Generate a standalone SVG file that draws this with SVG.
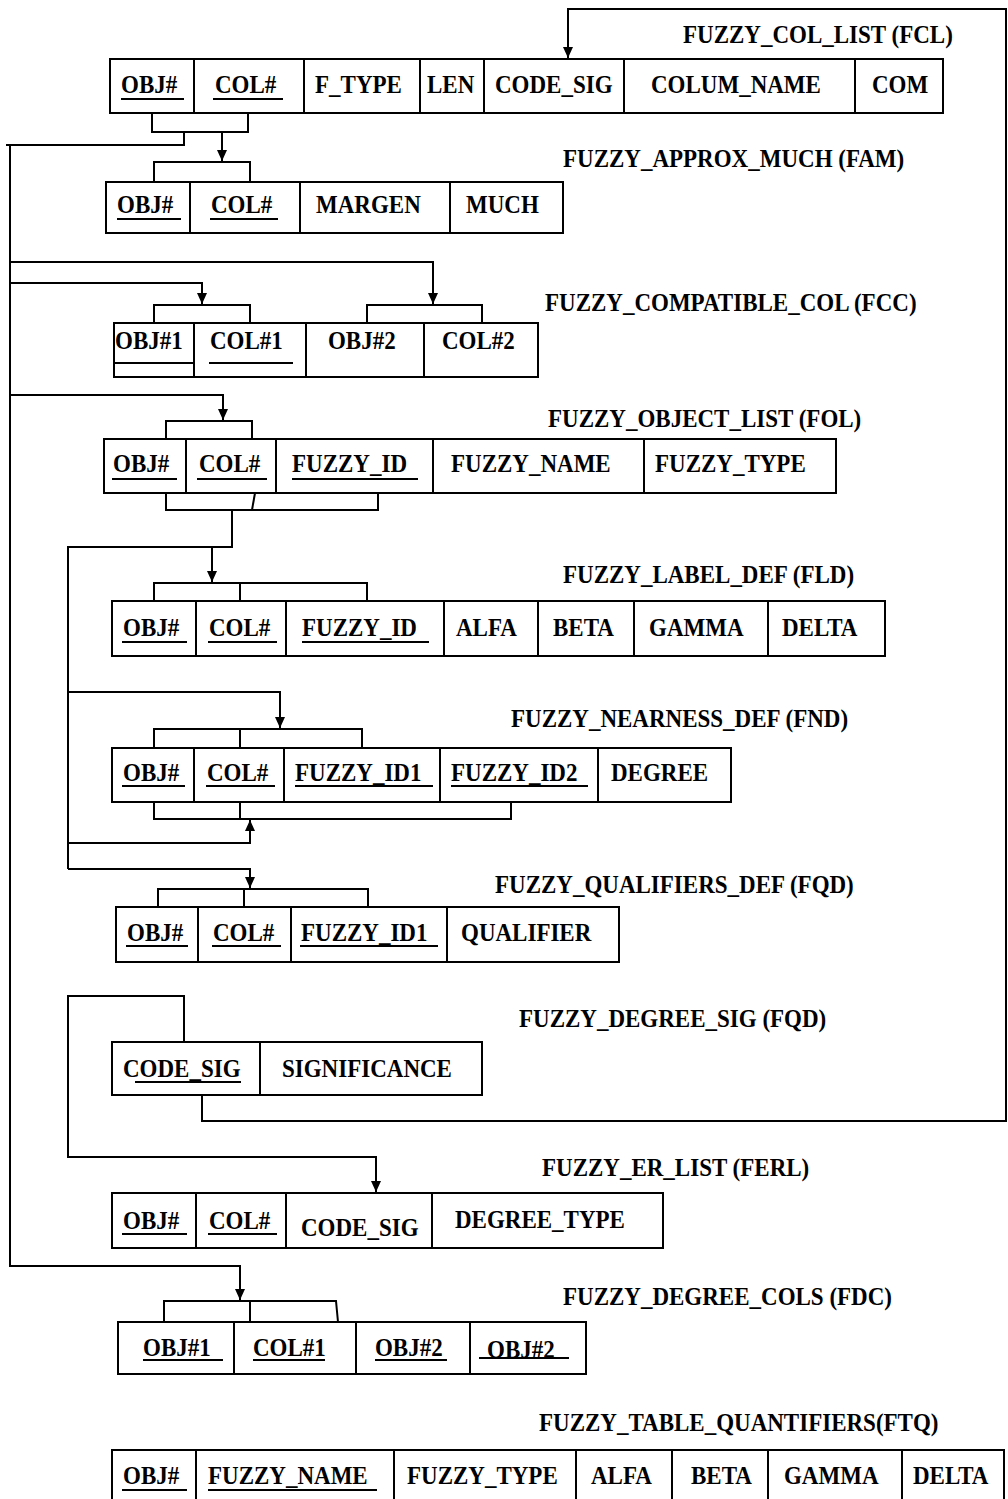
<svg xmlns="http://www.w3.org/2000/svg" width="1008" height="1499" viewBox="0 0 1008 1499">
<defs>
<style>
.box{fill:none;stroke:#000;stroke-width:2}
.ln{stroke:#000;stroke-width:2;fill:none}
.ul{stroke:#000;stroke-width:2}
.c{fill:none;stroke:#000;stroke-width:2}
.t{font-family:"Liberation Serif","Times New Roman",serif;font-weight:bold;font-size:25px;fill:#000;transform-box:fill-box;transform-origin:left;transform:scaleX(.92)}
</style>
<marker id="ah" markerUnits="userSpaceOnUse" markerWidth="12" markerHeight="12" viewBox="0 0 12 12" refX="11" refY="6" orient="auto">
<path d="M0,1 L11,6 L0,11 Z" fill="#000"/>
</marker>
</defs>
<rect width="1008" height="1499" fill="#fff"/>

<g id="connectors">
<path class="c" d="M202 1095 V1121 H1006 V9 H568 V58" marker-end="url(#ah)"/>
<path class="c" d="M152 113 V132 H248 V113"/>
<path class="c" d="M222 132 V161" marker-end="url(#ah)"/>
<path class="c" d="M154 182 V162 H250 V182"/>
<path class="c" d="M6 145 H184 V132"/>
<path class="c" d="M10 145 V1266 H240 V1300" marker-end="url(#ah)"/>
<path class="c" d="M10 262 H433 V304" marker-end="url(#ah)"/>
<path class="c" d="M10 283 H202 V304" marker-end="url(#ah)"/>
<path class="c" d="M10 395 H223 V420" marker-end="url(#ah)"/>
<path class="c" d="M154 323 V305 H250 V323"/>
<path class="c" d="M367 323 V305 H482 V323"/>
<path class="c" d="M166 439 V421 H252 V439"/>
<path class="c" d="M166 493 V510 H378 V493"/>
<path class="c" d="M255 493 L252 510"/>
<path class="c" d="M232 510 V547 H68 V869"/>
<path class="c" d="M212 547 V582" marker-end="url(#ah)"/>
<path class="c" d="M154 601 V583 H367 V601"/>
<path class="c" d="M240 583 V601"/>
<path class="c" d="M68 692 H280 V728" marker-end="url(#ah)"/>
<path class="c" d="M154 748 V729 H362 V748"/>
<path class="c" d="M240 729 V748"/>
<path class="c" d="M154 802 V819 H511 V802"/>
<path class="c" d="M240 802 V819"/>
<path class="c" d="M68 843 H250 V820" marker-end="url(#ah)"/>
<path class="c" d="M68 869 H250 V888" marker-end="url(#ah)"/>
<path class="c" d="M158 907 V889 H368 V907"/>
<path class="c" d="M244 889 V907"/>
<path class="c" d="M184 1042 V996 H68 V1157 H376 V1192" marker-end="url(#ah)"/>
<path class="c" d="M164 1322 V1301 H336 L338 1322"/>
<path class="c" d="M250 1301 V1322"/>
</g>

<g id="FCL">
<text class="t" x="683" y="43">FUZZY_COL_LIST (FCL)</text>
<rect class="box" x="110" y="59" width="833" height="54"/>
<path class="ln" d="M194 59V113M304 59V113M420 59V113M484 59V113M624 59V113M855 59V113"/>
<text class="t" x="121" y="93">OBJ#</text><line class="ul" x1="121" y1="99" x2="184" y2="99"/>
<text class="t" x="215" y="93">COL#</text><line class="ul" x1="213" y1="99" x2="283" y2="99"/>
<text class="t" x="315" y="93">F_TYPE</text>
<text class="t" x="427" y="93">LEN</text>
<text class="t" x="495" y="93">CODE_SIG</text>
<text class="t" x="651" y="93">COLUM_NAME</text>
<text class="t" x="872" y="93">COM</text>
</g>

<g id="FAM">
<text class="t" x="563" y="167">FUZZY_APPROX_MUCH (FAM)</text>
<rect class="box" x="106" y="182" width="457" height="51"/>
<path class="ln" d="M190 182V233M300 182V233M450 182V233"/>
<text class="t" x="117" y="213">OBJ#</text><line class="ul" x1="117" y1="219" x2="181" y2="219"/>
<text class="t" x="211" y="213">COL#</text><line class="ul" x1="210" y1="219" x2="278" y2="219"/>
<text class="t" x="316" y="213">MARGEN</text>
<text class="t" x="466" y="213">MUCH</text>
</g>

<g id="FCC">
<text class="t" x="545" y="311">FUZZY_COMPATIBLE_COL (FCC)</text>
<rect class="box" x="114" y="323" width="424" height="54"/>
<path class="ln" d="M194 323V377M306 323V377M424 323V377"/>
<text class="t" x="115" y="349">OBJ#1</text><line class="ul" x1="114" y1="363" x2="194" y2="363"/>
<text class="t" x="210" y="349">COL#1</text><line class="ul" x1="209" y1="363" x2="293" y2="363"/>
<text class="t" x="328" y="349">OBJ#2</text>
<text class="t" x="442" y="349">COL#2</text>
</g>

<g id="FOL">
<text class="t" x="548" y="427">FUZZY_OBJECT_LIST (FOL)</text>
<rect class="box" x="104" y="439" width="732" height="54"/>
<path class="ln" d="M186 439V493M276 439V493M433 439V493M644 439V493"/>
<text class="t" x="113" y="472">OBJ#</text><line class="ul" x1="112" y1="479" x2="177" y2="479"/>
<text class="t" x="199" y="472">COL#</text><line class="ul" x1="197" y1="479" x2="267" y2="479"/>
<text class="t" x="292" y="472">FUZZY_ID</text><line class="ul" x1="292" y1="479" x2="418" y2="479"/>
<text class="t" x="451" y="472">FUZZY_NAME</text>
<text class="t" x="655" y="472">FUZZY_TYPE</text>
</g>

<g id="FLD">
<text class="t" x="563" y="583">FUZZY_LABEL_DEF (FLD)</text>
<rect class="box" x="112" y="601" width="773" height="55"/>
<path class="ln" d="M196 601V656M286 601V656M444 601V656M538 601V656M634 601V656M768 601V656"/>
<text class="t" x="123" y="636">OBJ#</text><line class="ul" x1="122" y1="642" x2="187" y2="642"/>
<text class="t" x="209" y="636">COL#</text><line class="ul" x1="208" y1="642" x2="277" y2="642"/>
<text class="t" x="302" y="636">FUZZY_ID</text><line class="ul" x1="302" y1="642" x2="429" y2="642"/>
<text class="t" x="456" y="636">ALFA</text>
<text class="t" x="553" y="636">BETA</text>
<text class="t" x="649" y="636">GAMMA</text>
<text class="t" x="782" y="636">DELTA</text>
</g>

<g id="FND">
<text class="t" x="511" y="727">FUZZY_NEARNESS_DEF (FND)</text>
<rect class="box" x="112" y="748" width="619" height="54"/>
<path class="ln" d="M194 748V802M284 748V802M440 748V802M598 748V802"/>
<text class="t" x="123" y="781">OBJ#</text><line class="ul" x1="122" y1="786" x2="185" y2="786"/>
<text class="t" x="207" y="781">COL#</text><line class="ul" x1="206" y1="786" x2="275" y2="786"/>
<text class="t" x="295" y="781">FUZZY_ID1</text><line class="ul" x1="295" y1="786" x2="433" y2="786"/>
<text class="t" x="451" y="781">FUZZY_ID2</text><line class="ul" x1="451" y1="786" x2="588" y2="786"/>
<text class="t" x="611" y="781">DEGREE</text>
</g>

<g id="FQD">
<text class="t" x="495" y="893">FUZZY_QUALIFIERS_DEF (FQD)</text>
<rect class="box" x="116" y="907" width="503" height="55"/>
<path class="ln" d="M198 907V962M291 907V962M447 907V962"/>
<text class="t" x="127" y="941">OBJ#</text><line class="ul" x1="126" y1="946" x2="188" y2="946"/>
<text class="t" x="213" y="941">COL#</text><line class="ul" x1="212" y1="946" x2="281" y2="946"/>
<text class="t" x="301" y="941">FUZZY_ID1</text><line class="ul" x1="300" y1="946" x2="438" y2="946"/>
<text class="t" x="461" y="941">QUALIFIER</text>
</g>

<g id="FDS">
<text class="t" x="519" y="1027">FUZZY_DEGREE_SIG (FQD)</text>
<rect class="box" x="112" y="1042" width="370" height="53"/>
<path class="ln" d="M260 1042V1095"/>
<text class="t" x="123" y="1077">CODE_SIG</text><line class="ul" x1="135" y1="1082" x2="241" y2="1082"/>
<text class="t" x="282" y="1077">SIGNIFICANCE</text>
</g>

<g id="FERL">
<text class="t" x="542" y="1176">FUZZY_ER_LIST (FERL)</text>
<rect class="box" x="112" y="1193" width="551" height="55"/>
<path class="ln" d="M196 1193V1248M286 1193V1248M432 1193V1248"/>
<text class="t" x="123" y="1229">OBJ#</text><line class="ul" x1="122" y1="1234" x2="187" y2="1234"/>
<text class="t" x="209" y="1229">COL#</text><line class="ul" x1="208" y1="1234" x2="277" y2="1234"/>
<text class="t" x="301" y="1236">CODE_SIG</text>
<text class="t" x="455" y="1228">DEGREE_TYPE</text>
</g>

<g id="FDC">
<text class="t" x="563" y="1305">FUZZY_DEGREE_COLS (FDC)</text>
<rect class="box" x="118" y="1322" width="468" height="52"/>
<path class="ln" d="M234 1322V1374M356 1322V1374M470 1322V1374"/>
<text class="t" x="143" y="1356">OBJ#1</text><line class="ul" x1="143" y1="1360" x2="223" y2="1360"/>
<text class="t" x="253" y="1356">COL#1</text><line class="ul" x1="253" y1="1360" x2="325" y2="1360"/>
<text class="t" x="375" y="1356">OBJ#2</text><line class="ul" x1="375" y1="1360" x2="447" y2="1360"/>
<text class="t" x="487" y="1358">OBJ#2</text><line class="ul" x1="479" y1="1358" x2="569" y2="1358"/>
</g>

<g id="FTQ">
<text class="t" x="539" y="1431">FUZZY_TABLE_QUANTIFIERS(FTQ)</text>
<rect class="box" x="112" y="1450" width="892" height="80"/>
<path class="ln" d="M196 1450V1530M394 1450V1530M576 1450V1530M672 1450V1530M768 1450V1530M902 1450V1530"/>
<text class="t" x="123" y="1484">OBJ#</text><line class="ul" x1="122" y1="1490" x2="187" y2="1490"/>
<text class="t" x="208" y="1484">FUZZY_NAME</text><line class="ul" x1="208" y1="1490" x2="377" y2="1490"/>
<text class="t" x="407" y="1484">FUZZY_TYPE</text>
<text class="t" x="591" y="1484">ALFA</text>
<text class="t" x="691" y="1484">BETA</text>
<text class="t" x="784" y="1484">GAMMA</text>
<text class="t" x="913" y="1484">DELTA</text>
</g>
</svg>
